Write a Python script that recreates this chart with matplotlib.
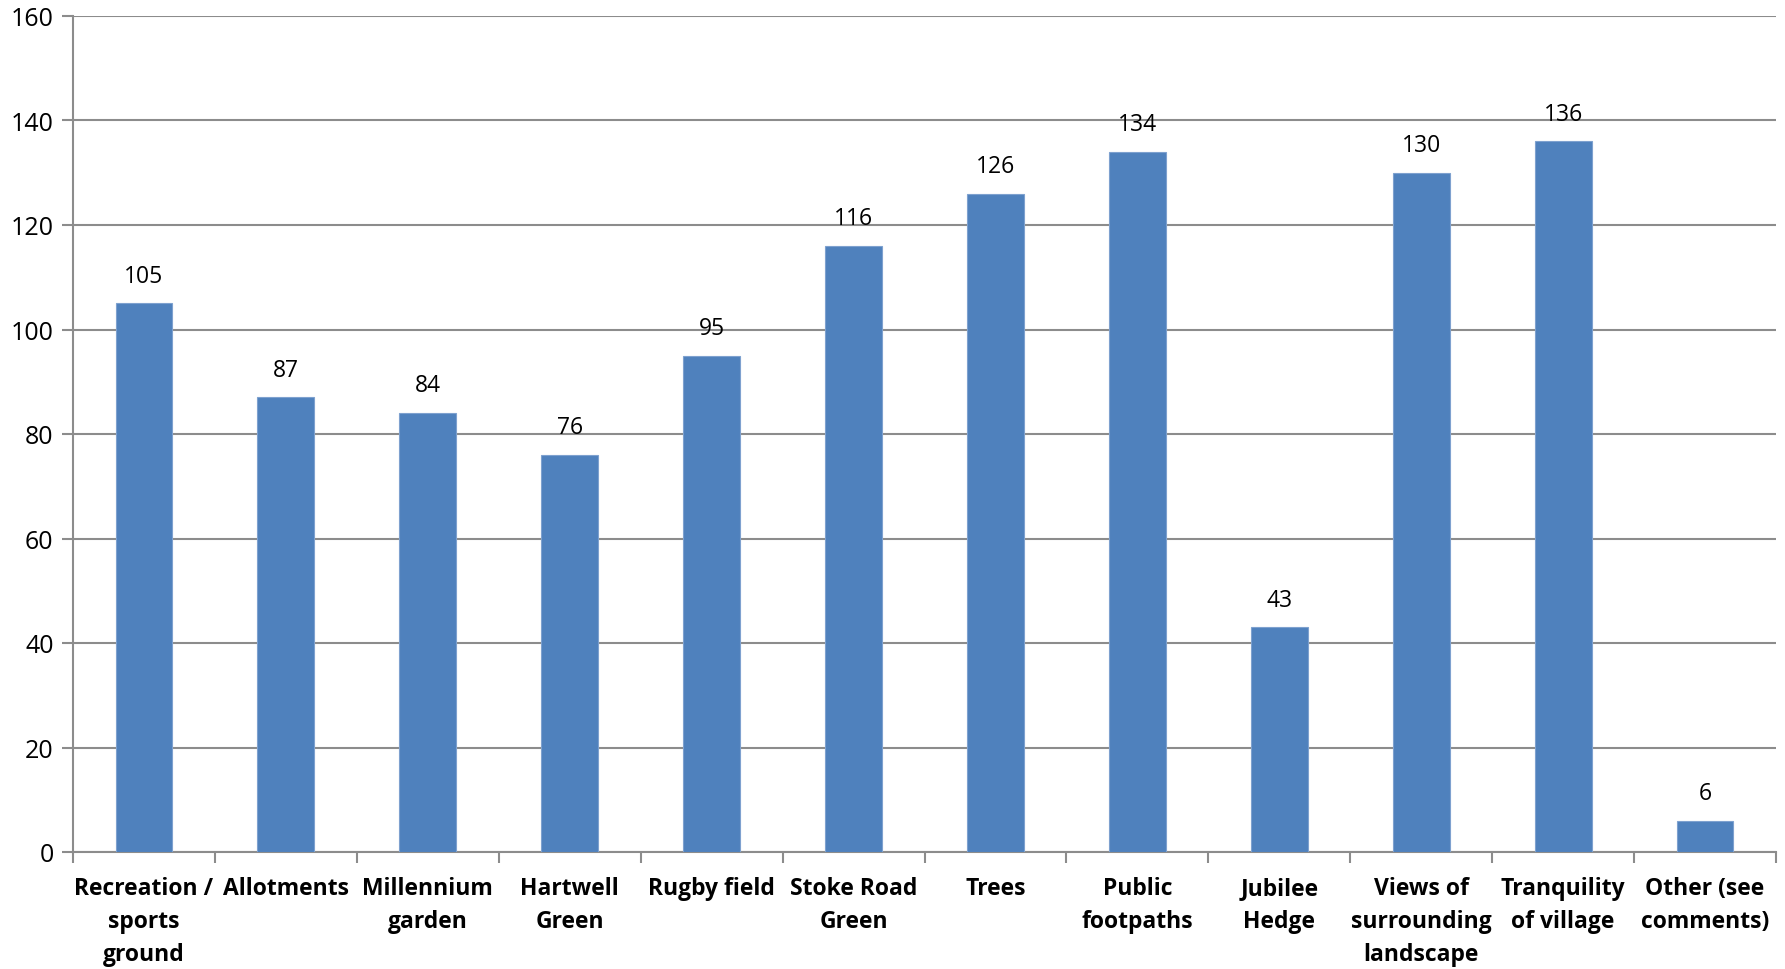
import matplotlib.pyplot as plt
import numpy as np

categories = ["Recreation /\nsports\nground", "Allotments", "Millennium\ngarden",
              "Hartwell\nGreen", "Rugby field", "Stoke Road\nGreen", "Trees",
              "Public\nfootpaths", "Jubilee\nHedge", "Views of\nsurrounding\nlandscape",
              "Tranquility\nof village", "Other (see\ncomments)"]
counts = [105, 87, 84, 76, 95, 116, 126, 134, 43, 130, 136, 6]
yticks = [0, 20, 40, 60, 80, 100, 120, 140, 160]

plt.rcParams['font.family'] = ['Open Sans', 'DejaVu Sans']

fig = plt.figure(figsize=(17.85, 9.7), dpi=100)
ax = fig.add_axes([73/1785, 1 - 853/970, (1776-73)/1785, (853-17)/970])

x = np.arange(len(categories))
bars = ax.bar(x, counts, width=0.4, color='#4F81BD', edgecolor='#7EA1CF', linewidth=0.8, zorder=3)

for xi, v in zip(x, counts):
    ax.text(xi, v + 3, str(v), ha='center', va='bottom', fontsize=16.5, color='black')

ax.set_xlim(-0.5, len(categories) - 0.5)
ax.set_ylim(0, 160)
ax.set_yticks(yticks)
ax.set_yticklabels([str(t) for t in yticks], fontsize=18)
ax.yaxis.grid(True, color='#8C8C8C', linewidth=1.5, zorder=0)

# category boundary ticks on x-axis
ax.set_xticks(np.arange(len(categories) + 1) - 0.5)
ax.set_xticklabels([])
ax.set_xticks(x, minor=True)
ax.set_xticklabels(categories, minor=True, fontsize=16.5, fontweight='bold', linespacing=1.5)
ax.tick_params(axis='x', which='minor', length=0, pad=17)
ax.tick_params(axis='x', which='major', length=8, color='#8C8C8C', width=1.5)
ax.tick_params(axis='y', length=8, color='#8C8C8C', width=1.5, pad=6)

for side in ['top', 'right']:
    ax.spines[side].set_visible(False)
for side in ['left', 'bottom']:
    ax.spines[side].set_color('#8C8C8C')
    ax.spines[side].set_linewidth(1.5)

fig.savefig('out.png', dpi=100)
